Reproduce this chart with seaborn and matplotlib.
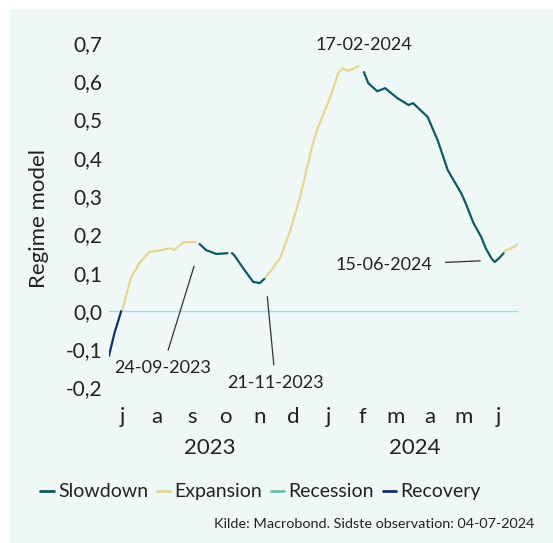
import matplotlib
matplotlib.use("Agg")
import matplotlib.pyplot as plt
from matplotlib.lines import Line2D
from matplotlib.patches import Rectangle
import numpy as np
import pandas as pd
import seaborn as sns

sns.set_style("white")
plt.rcParams["font.family"] = ["Lato", "DejaVu Sans"]

# Regime model readings, split into continuous regime segments
dates = [
    "2023-07-04", "2023-07-09", "2023-07-15",
    "2023-07-16", "2023-07-19", "2023-07-24", "2023-08-01", "2023-08-09",
    "2023-08-20", "2023-08-28", "2023-08-31", "2023-09-09", "2023-09-20",
    "2023-09-23", "2023-09-29", "2023-10-08", "2023-10-18",
    "2023-10-22", "2023-10-24", "2023-11-01", "2023-11-10", "2023-11-16",
    "2023-11-20",
    "2023-11-21", "2023-11-25", "2023-12-04", "2023-12-13", "2023-12-22",
    "2024-01-02", "2024-01-07", "2024-01-18", "2024-01-25", "2024-01-29",
    "2024-02-02", "2024-02-07", "2024-02-12",
    "2024-02-17", "2024-02-21", "2024-02-29", "2024-03-07", "2024-03-18",
    "2024-03-28", "2024-04-01", "2024-04-14", "2024-04-23", "2024-05-02",
    "2024-05-14", "2024-05-18", "2024-05-25", "2024-06-01", "2024-06-05",
    "2024-06-10", "2024-06-13", "2024-06-17", "2024-06-21",
    "2024-06-22", "2024-06-28", "2024-07-04",
]
values = [
    -0.117, -0.057, 0.000,
    0.003, 0.037, 0.089, 0.128, 0.154,
    0.159, 0.164, 0.159, 0.180, 0.180,
    0.175, 0.159, 0.149, 0.151,
    0.151, 0.146, 0.112, 0.076, 0.073,
    0.084,
    0.088, 0.102, 0.138, 0.209, 0.298,
    0.433, 0.480, 0.559, 0.621, 0.634,
    0.627, 0.632, 0.640,
    0.624, 0.595, 0.574, 0.582, 0.556,
    0.538, 0.543, 0.507, 0.446, 0.368,
    0.308, 0.282, 0.230, 0.193, 0.164,
    0.138, 0.128, 0.138, 0.151,
    0.157, 0.164, 0.175,
]
regimes = (
    ["Recovery"] * 3
    + ["Expansion"] * 10
    + ["Slowdown"] * 4
    + ["Slowdown"] * 6
    + ["Expansion"] * 13
    + ["Slowdown"] * 19
    + ["Expansion"] * 3
)
segments = (
    [0] * 3 + [1] * 10 + [2] * 4 + [3] * 6 + [4] * 13 + [5] * 19 + [6] * 3
)

regime_order = ["Slowdown", "Expansion", "Recession", "Recovery"]
regime_colors = {
    "Slowdown": "#0e5a64",
    "Expansion": "#e8d591",
    "Recession": "#5fc7b4",
    "Recovery": "#0d2f6e",
}

month_labels = ["j", "a", "s", "o", "n", "d", "j", "f", "m", "a", "m", "j"]
y_ticks = [-0.2, -0.1, 0.0, 0.1, 0.2, 0.3, 0.4, 0.5, 0.6, 0.7]

annotated_dates = ["2023-09-24", "2023-11-21", "2024-02-17", "2024-06-15"]

df = pd.DataFrame({
    "date": pd.to_datetime(dates),
    "value": values,
    "regime": regimes,
    "segment": segments,
})

text_color = "#222222"

fig = plt.figure(figsize=(5.53, 5.43), dpi=100)
fig.patch.set_facecolor("white")
fig.patches.append(Rectangle((10 / 553, 0), 1 - 10 / 553, 1 - 9 / 543,
                             transform=fig.transFigure, facecolor="#f0f8f7",
                             edgecolor="none", zorder=-10))

ax = fig.add_axes([0.197, 0.2862, 0.740, 0.6346])
ax.set_facecolor("none")

x0, x1 = df["date"].min(), df["date"].max()
ax.axhline(0, color="#a9d9ea", lw=1.0, zorder=1)

sns.lineplot(data=df, x="date", y="value", hue="regime", units="segment",
             estimator=None, palette=regime_colors, lw=1.6, legend=False,
             ax=ax, zorder=3)

ax.set_xlim(x0, x1)
ax.set_ylim(-0.2, 0.7)

# Month ticks at mid-month, Danish month initials
month_pos = pd.date_range("2023-07-01", periods=12, freq="MS") + pd.Timedelta(days=15)
ax.set_xticks(month_pos)
ax.set_xticklabels(month_labels)
ax.set_yticks(y_ticks)
ax.set_yticklabels([f"{v:.1f}".replace(".", ",") for v in y_ticks])
ax.tick_params(axis="x", length=0, pad=14, labelsize=16, labelcolor=text_color)
ax.tick_params(axis="y", length=0, pad=5, labelsize=15, labelcolor=text_color)
for s in ax.spines.values():
    s.set_visible(False)

ax.set_xlabel("")
ax.set_ylabel("Regime model", fontsize=16, color=text_color)
ax.yaxis.set_label_coords(-0.147, 0.49)

# Year labels centred under each year's span
for yr, (a, b) in {"2023": (x0, pd.Timestamp("2023-12-31")),
                   "2024": (pd.Timestamp("2024-01-01"), x1)}.items():
    ax.text(a + (b - a) / 2, -0.175, yr, transform=ax.get_xaxis_transform(),
            ha="center", va="center", fontsize=16, color=text_color)

# Regime-shift annotations
num_dates = df["date"].map(pd.Timestamp.toordinal).to_numpy()


def value_at(d):
    return float(np.interp(pd.Timestamp(d).toordinal(), num_dates, df["value"]))


line_kw = dict(arrowstyle="-", color="#333333", lw=0.9)
d = pd.Timestamp(annotated_dates[0])
ax.annotate("24-09-2023", xy=(d, value_at(d)), xytext=(pd.Timestamp("2023-08-21"), -0.149),
            ha="center", va="center", fontsize=13, color=text_color,
            arrowprops=dict(shrinkA=5, shrinkB=16, **line_kw))
d = pd.Timestamp(annotated_dates[1])
ax.annotate("21-11-2023", xy=(d, value_at(d)), xytext=(pd.Timestamp("2023-11-30"), -0.188),
            ha="center", va="center", fontsize=13, color=text_color,
            arrowprops=dict(shrinkA=5, shrinkB=14, **line_kw))
d = pd.Timestamp(annotated_dates[2])
ax.text(d, 0.695, "17-02-2024", ha="center", va="center", fontsize=13,
        color=text_color)
d = pd.Timestamp(annotated_dates[3])
ax.annotate("15-06-2024", xy=(d, value_at(d)), xytext=(pd.Timestamp("2024-03-06"), 0.12),
            ha="center", va="center", fontsize=13, color=text_color,
            arrowprops=dict(shrinkA=7, shrinkB=12, **line_kw))

handles = [Line2D([0], [0], color=regime_colors[r], lw=2) for r in regime_order]
fig.legend(handles, regime_order, loc="center", bbox_to_anchor=(0.471, 0.094),
           ncol=4, frameon=False, fontsize=14, handlelength=0.7,
           handletextpad=0.2, columnspacing=0.45, labelcolor=text_color)

fig.text(534 / 553, 1 - 524 / 543, "Kilde: Macrobond. Sidste observation: 04-07-2024",
         ha="right", va="center", fontsize=10.4, color=text_color)

fig.savefig("out.png", dpi=100)
